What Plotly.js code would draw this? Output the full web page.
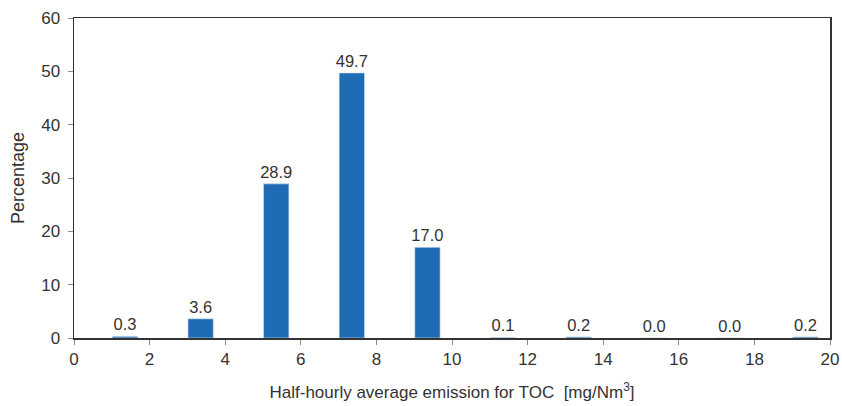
<!DOCTYPE html>
<html>
<head>
<meta charset="utf-8">
<script src="https://cdn.plot.ly/plotly-3.0.1.min.js"></script>
<style>html,body{margin:0;padding:0;background:#fff;}#chart{width:842px;height:406px;}</style>
</head>
<body>
<div id="chart"></div>
<script>
const binCenters = [1.35, 3.35, 5.35, 7.35, 9.35, 11.35, 13.35, 15.35, 17.35, 19.35];
const percentages = [0.3, 3.6, 28.9, 49.7, 17.0, 0.1, 0.2, 0.0, 0.0, 0.2];
const xTicks = [0, 2, 4, 6, 8, 10, 12, 14, 16, 18, 20];
const yTicks = [0, 10, 20, 30, 40, 50, 60];

const trace = {
  type: 'bar',
  x: binCenters,
  y: percentages,
  width: 0.67,
  marker: {color: '#1f6bb4', line: {color: '#cfe0f0', width: 0.6}},
  text: percentages.map(v => v.toFixed(1)),
  textposition: 'outside',
  constraintext: 'none',
  textfont: {family: 'Liberation Sans, Arial, sans-serif', size: 16.5, color: '#333'},
  cliponaxis: false,
  hoverinfo: 'none'
};

const layout = {
  width: 842, height: 406,
  margin: {l: 74, r: 12, t: 18, b: 68},
  paper_bgcolor: '#fff', plot_bgcolor: '#fff',
  font: {family: 'Liberation Sans, Arial, sans-serif', size: 16.5, color: '#333'},
  showlegend: false,
  xaxis: {
    range: [0, 20], tickvals: xTicks, ticktext: xTicks.map(String),
    ticks: 'outside', ticklen: 5, tickcolor: '#888', tickwidth: 1,
    showline: true, linecolor: '#333', linewidth: 1.5, mirror: true,
    showgrid: false, zeroline: false,
    tickfont: {size: 17, color: '#333'},
    title: {text: 'Half-hourly average emission for TOC&nbsp; [mg/Nm<sup>3</sup>]', font: {size: 17, color: '#333'}, standoff: 18}
  },
  yaxis: {
    range: [0, 60], tickvals: yTicks, ticktext: yTicks.map(String),
    ticks: 'outside', ticklen: 5, tickcolor: '#888', tickwidth: 1,
    ticklabelstandoff: 4,
    showline: true, linecolor: '#333', linewidth: 1.5, mirror: true,
    showgrid: false, zeroline: false,
    tickfont: {size: 17, color: '#333'},
    title: {text: 'Percentage', font: {size: 18, color: '#333'}, standoff: 12}
  }
};

Plotly.newPlot('chart', [trace], layout, {staticPlot: true, displayModeBar: false});
</script>
</body>
</html>
